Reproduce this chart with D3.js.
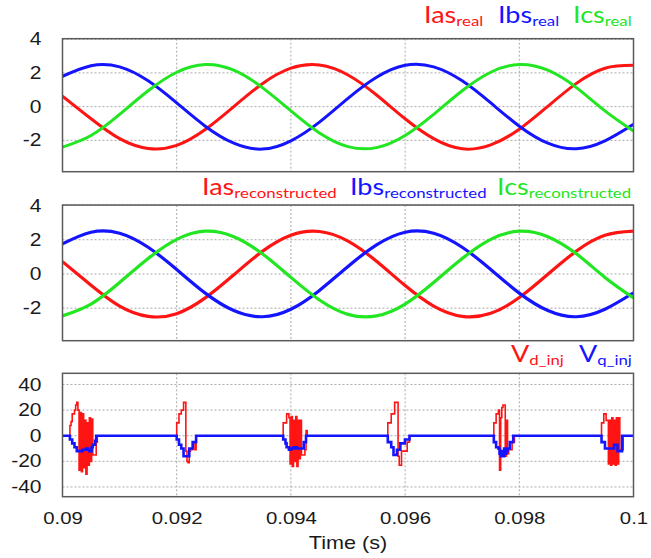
<!DOCTYPE html>
<html>
<head>
<meta charset="utf-8">
<script src="https://d3js.org/d3.v7.min.js"></script>
<style>
body { margin: 0; background: #fff; }
svg { display: block; }
</style>
</head>
<body>
<svg id="chart" width="651" height="558"></svg>
<script>
// time axis
var timeTicks = [0.09, 0.092, 0.094, 0.096, 0.098, 0.1];
var timeTickLabels = ["0.09", "0.092", "0.094", "0.096", "0.098", "0.1"];
var currentTicks = [-2, 0, 2, 4];
var voltageTicks = [-40, -20, 0, 20, 40];

// phase currents, read every 0.5 ms
var sampleTimes = [0.09, 0.0905, 0.091, 0.0915, 0.092, 0.0925, 0.093, 0.0935, 0.094, 0.0945, 0.095,
	0.0955, 0.096, 0.0965, 0.097, 0.0975, 0.098, 0.0985, 0.099, 0.0995, 0.1];
var iasReal = [0.62, -0.72, -1.90, -2.48, -2.30, -1.36, 0.00, 1.36, 2.28, 2.47, 1.88,
	0.69, -0.72, -1.90, -2.50, -2.27, -1.34, 0.02, 1.38, 2.28, 2.45];
var ibsReal = [1.80, 2.43, 2.36, 1.53, 0.22, -1.16, -2.17, -2.52, -2.03, -0.92, 0.49,
	1.74, 2.45, 2.36, 1.53, 0.22, -1.16, -2.17, -2.50, -2.03, -1.05];
var icsReal = [-2.40, -1.71, -0.46, 0.94, 2.04, 2.50, 2.16, 1.13, -0.25, -1.56, -2.37,
	-2.43, -1.71, -0.46, 0.94, 2.04, 2.50, 2.16, 1.13, -0.25, -1.45];
var iasRec = [0.72, -0.66, -1.88, -2.48, -2.32, -1.40, -0.05, 1.32, 2.26, 2.48, 1.92,
	0.74, -0.68, -1.88, -2.48, -2.30, -1.38, -0.02, 1.34, 2.26, 2.50];
var ibsRec = [1.76, 2.44, 2.38, 1.56, 0.26, -1.12, -2.14, -2.50, -2.06, -0.96, 0.44,
	1.70, 2.44, 2.38, 1.56, 0.26, -1.12, -2.14, -2.50, -2.06, -1.10];
var icsRec = [-2.45, -1.76, -0.50, 0.90, 2.02, 2.50, 2.18, 1.18, -0.20, -1.52, -2.36,
	-2.45, -1.76, -0.50, 0.90, 2.02, 2.50, 2.18, 1.18, -0.20, -1.40];

// injected voltages: zero except short bursts, one value per 20 us step
var burstStart = [0.09013, 0.09200, 0.093865, 0.095697, 0.097554, 0.09944];
var stepLength = 0.00002;
var vd1 = [8, 11, 17, 17, 20, 24, 26, 20, -27, 18, -28, 17, -25, 12, -30, 10, -23, 14, -20, 13, -15, -15, -15, -5, 0];
var vq1 = [-3, -3, -6, -6, -9, -9, -12, -12, -12, -12, -12, -11, -11, -11, -10, -10, -11, -12, -12, -9, -7, -7, -4, 0, 0];
var vd2 = [10, 10, 17, 17, 20, 20, 26, 26, -12, -20, -21, -12, -11, -11, -5, -5, -11, 0];
var vq2 = [-3, -3, -7, -7, -10, -10, -16, -16, -16, -16, -16, -10, -10, -10, -5, -5, -5, 0];
var vd3 = [10, 10, 10, 17, 17, 14, -22, 15, -24, 12, -20, 15, -24, 12, -18, 12, -15, -15, -15, -11, 4, 0];
var vq3 = [-3, -3, -6, -9, -9, -11, -11, -10, -10, -9, -10, -9, -10, -10, -10, -10, -10, -10, -5, -5, 0, 0];
var vd4 = [10, 10, 10, 17, 17, 17, 26, 26, 26, -16, -23, -23, -12, -12, -12, -12, -12, -5, -5, 0];
var vq4 = [-5, -5, -5, -9, -9, -15, -15, -15, -11, -11, -11, -6, -6, -6, -6, -3, -3, -3, -3, 0];
var vd5 = [10, 10, 17, 17, 20, -27, 14, 22, 24, 24, -16, 12, -14, -11, -11, -11, -5, -5, 0];
var vq5 = [-5, -5, -9, -9, -10, -14, -16, -12, -16, -10, -14, -12, -10, -10, -5, -5, -5, 0, 0];
var vd6 = [10, 10, 17, 17, 12, 12, -22, 12, -23, 14, -22, 12, -23, 14, -22, 14, -11, -11, -11, 0, 0];
var vq6 = [-5, -5, -5, -10, -10, -10, -10, -10, -10, -10, -10, -7, -7, -7, -12, -12, -12, -12, 0, 0, 0];

var RED = "#ff1414";
var BLUE = "#1414ff";
var GREEN = "#22e622";

var svg = d3.select("#chart");
var plotLeft = 62.5;
var plotRight = 633.5;
var stretch = 1.2;   // the original picture is a bit wider than tall

var x = d3.scaleLinear().domain([0.09, 0.1]).range([plotLeft, plotRight]);

function zip(ts, vs) {
	return ts.map(function (t, i) { return [t, vs[i]]; });
}

function steps(bursts) {
	var pts = [[0.09, 0]];
	bursts.forEach(function (b, i) {
		var t0 = burstStart[i];
		pts.push([t0, 0]);
		b.forEach(function (v, j) {
			pts.push([t0 + j * stepLength, v]);
		});
		pts.push([t0 + b.length * stepLength, 0]);
	});
	pts.push([0.1, 0]);
	return pts;
}

function drawPanel(p, idx) {
	var y = d3.scaleLinear().domain(p.domain).range([p.bottom, p.top]);
	var g = svg.append("g");

	// grid
	g.selectAll("line.hgrid").data(p.ticks).enter().append("line")
		.attr("x1", plotLeft).attr("x2", plotRight)
		.attr("y1", function (d) { return y(d); })
		.attr("y2", function (d) { return y(d); })
		.attr("stroke", "#a8a8a8").attr("stroke-width", 1).attr("stroke-dasharray", "2,2");
	g.selectAll("line.vgrid").data(timeTicks.slice(1, -1)).enter().append("line")
		.attr("x1", function (d) { return x(d); })
		.attr("x2", function (d) { return x(d); })
		.attr("y1", p.top).attr("y2", p.bottom)
		.attr("stroke", "#a8a8a8").attr("stroke-width", 1).attr("stroke-dasharray", "2,2");

	var clipId = "clip" + idx;
	svg.append("clipPath").attr("id", clipId).append("rect")
		.attr("x", plotLeft).attr("y", p.top)
		.attr("width", plotRight - plotLeft).attr("height", p.bottom - p.top);

	var line = d3.line()
		.x(function (d) { return x(d[0]); })
		.y(function (d) { return y(d[1]); })
		.curve(p.curve);

	var lines = g.append("g").attr("clip-path", "url(#" + clipId + ")");
	p.series.forEach(function (s) {
		lines.append("path")
			.datum(s.data)
			.attr("d", line)
			.attr("fill", "none")
			.attr("stroke", s.color)
			.attr("stroke-width", s.width)
			.attr("stroke-linejoin", "miter");
	});

	// box
	g.append("rect")
		.attr("x", plotLeft).attr("y", p.top)
		.attr("width", plotRight - plotLeft).attr("height", p.bottom - p.top)
		.attr("fill", "none").attr("stroke", "#5a5a5a").attr("stroke-width", 1.5);

	// y axis labels
	var ya = g.append("g")
		.attr("transform", "translate(" + plotLeft + ",0)")
		.call(d3.axisLeft(y).tickValues(p.ticks).tickSize(0).tickPadding(0)
			.tickFormat(function (d) { return String(d); }));
	ya.select(".domain").remove();
	ya.attr("font-family", "'Liberation Sans', Arial, sans-serif").attr("font-size", 17.5);
	ya.selectAll("text")
		.attr("x", -21 / stretch)
		.attr("fill", "#1a1a1a")
		.attr("transform", "scale(" + stretch + ",1)");

	// legend
	p.legend.forEach(function (item, i) {
		var t = svg.append("text")
			.attr("transform", "translate(" + p.legendX[i] + "," + p.legendY + ") scale(" + stretch + ",1)")
			.attr("font-family", "Lato, 'Open Sans', sans-serif")
			.attr("fill", item[2]);
		t.append("tspan").attr("font-size", 22.5).text(item[0]);
		t.append("tspan").attr("font-size", 14).attr("dy", 3).text(item[1]);
	});

	return y;
}

var panels = [
	{
		top: 38.7, bottom: 171.7, domain: [-3.86, 4.03], ticks: currentTicks, curve: d3.curveNatural,
		series: [
			{ data: zip(sampleTimes, iasReal), color: RED, width: 3 },
			{ data: zip(sampleTimes, ibsReal), color: BLUE, width: 3 },
			{ data: zip(sampleTimes, icsReal), color: GREEN, width: 3 }
		],
		legend: [["Ias", "real", RED], ["Ibs", "real", BLUE], ["Ics", "real", GREEN]],
		legendX: [424, 498, 573], legendY: 23
	},
	{
		top: 205, bottom: 340.7, domain: [-3.9, 4.03], ticks: currentTicks, curve: d3.curveNatural,
		series: [
			{ data: zip(sampleTimes, iasRec), color: RED, width: 3.2 },
			{ data: zip(sampleTimes, ibsRec), color: BLUE, width: 3.2 },
			{ data: zip(sampleTimes, icsRec), color: GREEN, width: 3.2 }
		],
		legend: [["Ias", "reconstructed", RED], ["Ibs", "reconstructed", BLUE], ["Ics", "reconstructed", GREEN]],
		legendX: [202, 350, 497], legendY: 195
	},
	{
		top: 373.3, bottom: 496.7, domain: [-47.6, 48.7], ticks: voltageTicks, curve: d3.curveStepAfter,
		series: [
			{ data: steps([vd1, vd2, vd3, vd4, vd5, vd6]), color: RED, width: 1.6 },
			{ data: steps([vq1, vq2, vq3, vq4, vq5, vq6]), color: BLUE, width: 2.6 }
		],
		legend: [["V", "d_inj", RED], ["V", "q_inj", BLUE]],
		legendX: [511, 579], legendY: 362
	}
];

panels.forEach(drawPanel);

// time axis under the last panel
var xa = svg.append("g")
	.attr("transform", "translate(0," + panels[2].bottom + ")")
	.call(d3.axisBottom(x).tickValues(timeTicks).tickSize(0).tickPadding(15)
		.tickFormat(function (d, i) { return timeTickLabels[i]; }));
xa.select(".domain").remove();
xa.attr("font-family", "'Liberation Sans', Arial, sans-serif").attr("font-size", 17);
xa.selectAll("text").attr("fill", "#1a1a1a").attr("transform", "scale(" + stretch + ",1)");

svg.append("text")
	.attr("transform", "translate(" + (plotLeft + plotRight) / 2 + ",549) scale(" + stretch + ",1)")
	.attr("text-anchor", "middle")
	.attr("font-family", "'Liberation Sans', Arial, sans-serif")
	.attr("font-size", 18)
	.attr("fill", "#1a1a1a")
	.text("Time (s)");
</script>
</body>
</html>
